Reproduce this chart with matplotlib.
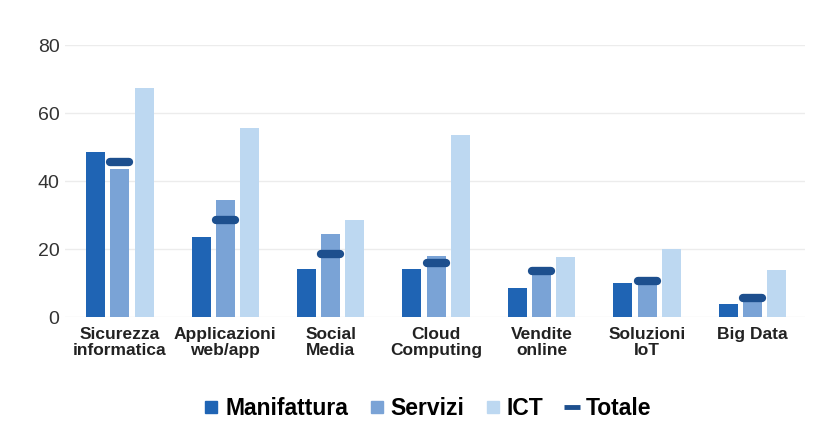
import numpy as np
import matplotlib.pyplot as plt
from matplotlib.lines import Line2D

plt.rcParams['font.family'] = ['Liberation Sans', 'DejaVu Sans']

# dati
categorie = ['Sicurezza\ninformatica', 'Applicazioni\nweb/app', 'Social\nMedia',
             'Cloud\nComputing', 'Vendite\nonline', 'Soluzioni\nIoT', 'Big Data']
manifattura = [48.5, 23.5, 14.3, 14.3, 8.5, 10.2, 3.8]
servizi = [43.5, 34.5, 24.5, 18.0, 14.5, 11.0, 6.5]
ict = [67.5, 55.5, 28.5, 53.5, 17.8, 20.0, 14.0]
totale = [45.5, 28.5, 18.5, 16.0, 13.5, 10.5, 5.5]

col_man = '#1f64b4'
col_ser = '#7aa3d6'
col_ict = '#bdd8f1'
col_tot = '#1d4f8e'

fig = plt.figure(figsize=(8.28, 4.43), dpi=100)
ax = fig.add_axes([0.0785, 0.284, 0.894, 0.614])

x = np.arange(len(categorie))
w = 0.18
off = 0.23

ax.bar(x - off, manifattura, w, color=col_man, zorder=2)
ax.bar(x, servizi, w, color=col_ser, zorder=2)
ax.bar(x + off, ict, w, color=col_ict, zorder=2)
ax.hlines(totale, x - 0.09, x + 0.09, colors=col_tot, lw=6, capstyle='round', zorder=3)

ax.set_xlim(-0.52, 6.5)
ax.set_ylim(0, 80)
ax.set_yticks([0, 20, 40, 60, 80])
ax.set_xticks(x)
ax.set_xticklabels(categorie, fontweight='bold', fontsize=12.5, color='#222222',
                   linespacing=1.05)
ax.tick_params(axis='y', labelsize=14, colors='#333333', length=0, pad=4)
ax.tick_params(axis='x', length=0, pad=7)
ax.grid(axis='y', color='#ececec', lw=1, zorder=0)
for s in ax.spines.values():
    s.set_visible(False)

handles = [
    Line2D([], [], marker='s', ls='none', color=col_man, markersize=8),
    Line2D([], [], marker='s', ls='none', color=col_ser, markersize=8),
    Line2D([], [], marker='s', ls='none', color=col_ict, markersize=8),
    Line2D([], [], color=col_tot, lw=3.5, solid_capstyle='butt'),
]
fig.legend(handles, ['Manifattura', 'Servizi', 'ICT', 'Totale'],
           loc='center', bbox_to_anchor=(0.516, 0.077), ncol=4, frameon=False,
           prop={'weight': 'bold', 'size': 16.5}, handlelength=0.7,
           handletextpad=0.25, columnspacing=0.9)

fig.savefig('out.png', dpi=100)
